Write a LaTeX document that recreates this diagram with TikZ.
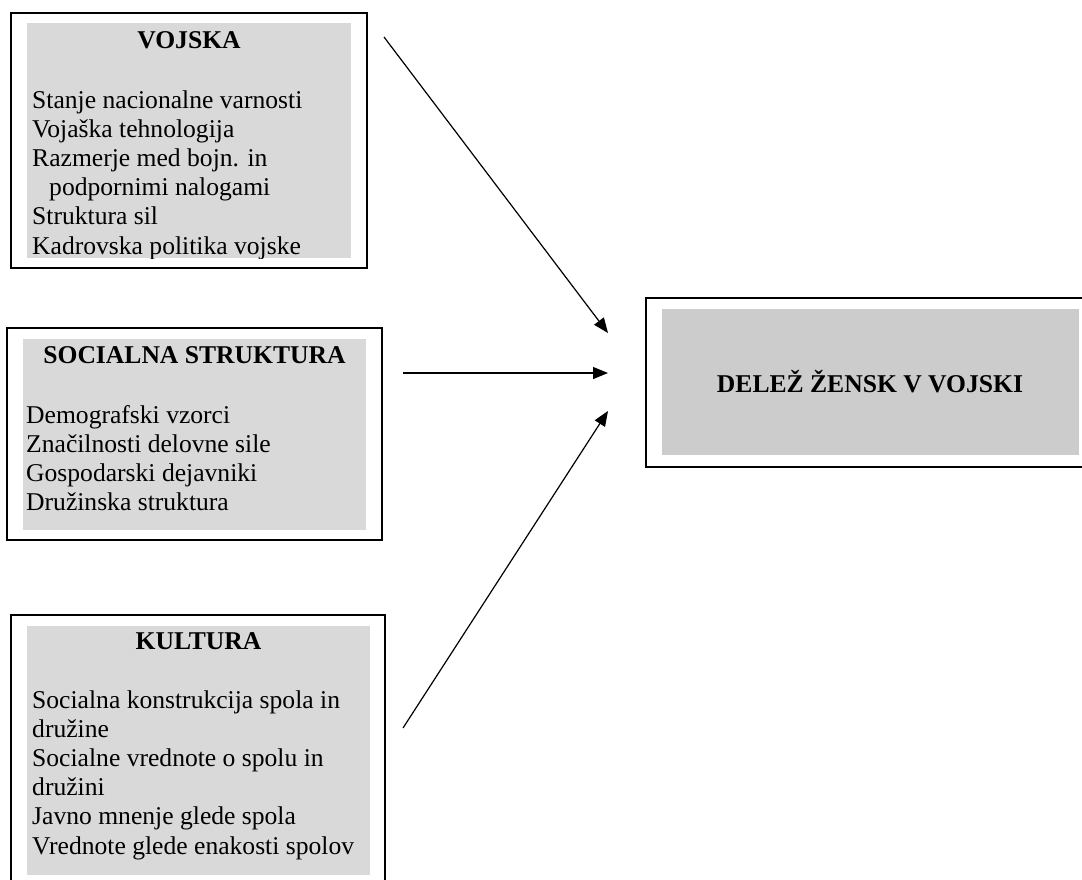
\documentclass[tikz,border=0pt]{standalone}
\usepackage{fontspec}
\setmainfont{Liberation Serif}
\usetikzlibrary{arrows.meta}
\definecolor{lgrey}{HTML}{D9D9D9}
\definecolor{dgrey}{HTML}{CCCCCC}
\begin{document}
\begin{tikzpicture}[x=1pt,y=-1pt,
  frame/.style={draw=black, line width=1.6pt, fill=white, rectangle, inner sep=0pt},
  panel/.style={fill=#1, draw=none, rectangle, inner sep=0pt},
  txt/.style={anchor=base west, inner sep=0pt, font=\fontsize{25.6}{29}\selectfont},
  ttl/.style={anchor=base, inner sep=0pt, font=\fontsize{25.6}{29}\selectfont\bfseries},
  conn/.style={line width=1.2pt, -{Triangle[length=15pt,width=12pt]}}]
\useasboundingbox (0,0) rectangle (1082,879);
\clip (0,0) rectangle (1082,879);

% VOJSKA
\node[frame, minimum width=356pt, minimum height=255pt] (vojska) at (189,140.5) {};
\node[panel=lgrey, minimum width=324pt, minimum height=235pt] (vojskap) at (189,140.5) {};
\node[ttl] (vojskat) at (189,48) {VOJSKA};
\begin{scope}
\clip (27,23) rectangle (351,258);
\node[txt] (v1) at (32,108) {Stanje nacionalne varnosti};
\node[txt] (v2) at (32,137.2) {Vojaška tehnologija};
\node[txt] (v3) at (32,166.4) {Razmerje med bojn. in};
\node[txt] (v4) at (49,195.6) {podpornimi nalogami};
\node[txt] (v5) at (32,224.8) {Struktura sil};
\node[txt] (v6) at (32,254) {Kadrovska politika vojske};
\end{scope}

% SOCIALNA STRUKTURA
\node[frame, minimum width=375pt, minimum height=212pt] (soc) at (194.5,434) {};
\node[panel=lgrey, minimum width=343pt, minimum height=191pt] (socp) at (194.5,434.5) {};
\node[ttl] (soct) at (194.5,363) {SOCIALNA STRUKTURA};
\node[txt] (s1) at (26,423) {Demografski vzorci};
\node[txt] (s2) at (26,452.2) {Značilnosti delovne sile};
\node[txt] (s3) at (26,481.4) {Gospodarski dejavniki};
\node[txt] (s4) at (26,510.6) {Družinska struktura};

% KULTURA
\node[frame, minimum width=374pt, minimum height=271pt] (kul) at (198,750.5) {};
\node[panel=lgrey, minimum width=343pt, minimum height=249pt] (kulp) at (198.5,750.5) {};
\node[ttl] (kult) at (198.5,649) {KULTURA};
\node[txt] (k1) at (32,708) {Socialna konstrukcija spola in};
\node[txt] (k2) at (32,737.2) {družine};
\node[txt] (k3) at (32,766.4) {Socialne vrednote o spolu in};
\node[txt] (k4) at (32,795.6) {družini};
\node[txt] (k5) at (32,824.8) {Javno mnenje glede spola};
\node[txt] (k6) at (32,854) {Vrednote glede enakosti spolov};

% DELEZ
\node[frame, minimum width=449pt, minimum height=169pt] (delez) at (870.5,382.5) {};
\node[panel=dgrey, minimum width=417pt, minimum height=146pt] (delezp) at (870.5,382) {};
\node[ttl] (delezt) at (870,392) {DELEŽ ŽENSK V VOJSKI};

% arrows
\coordinate (a1s) at (384,37);
\coordinate (a1e) at (608,333);
\coordinate (a2s) at (403,373);
\coordinate (a2e) at (608,373);
\coordinate (a3s) at (403,728);
\coordinate (a3e) at (608,411);
\draw[conn] (a1s) -- (a1e);
\draw[conn] (a2s) -- (a2e);
\draw[conn] (a3s) -- (a3e);
\end{tikzpicture}
\end{document}
